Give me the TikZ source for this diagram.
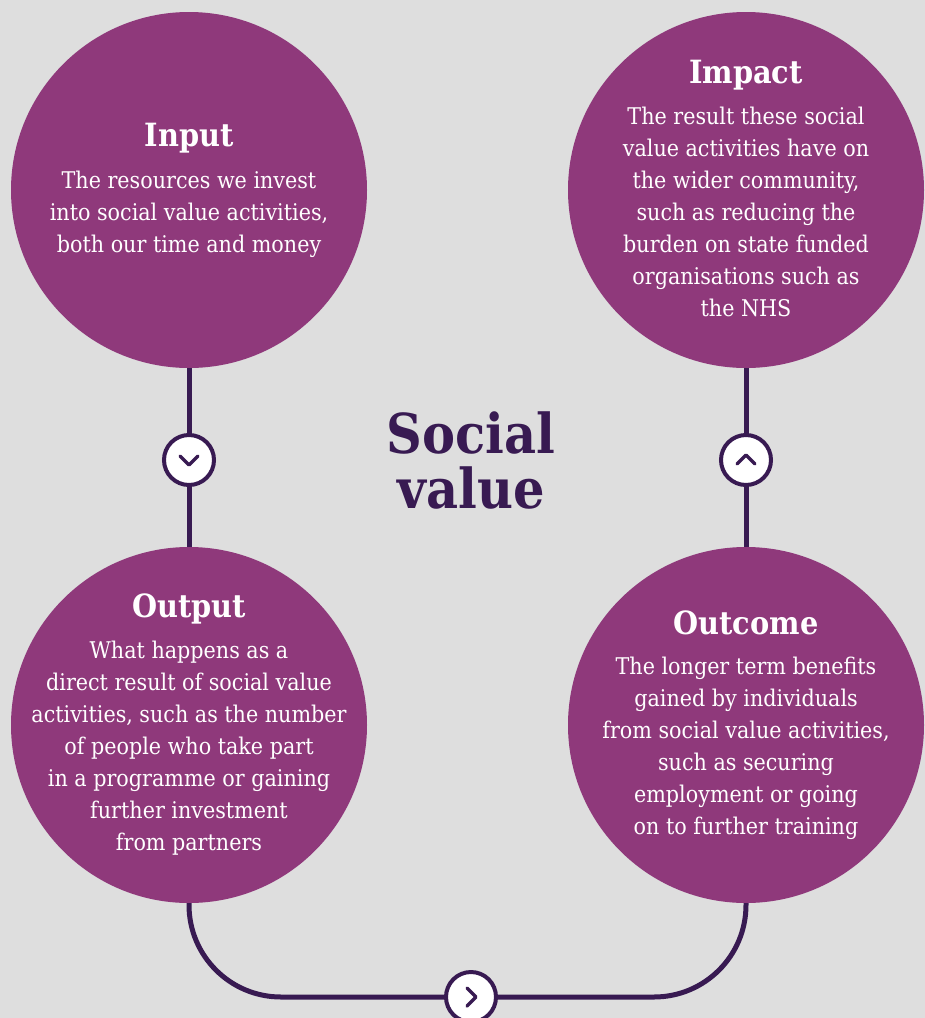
\documentclass[tikz,border=0pt]{standalone}
\usepackage{fontspec}
\setmainfont{DejaVu Serif Condensed}
\definecolor{bgcol}{RGB}{222,222,222}
\definecolor{plum}{RGB}{143,57,123}
\definecolor{ink}{RGB}{56,26,82}
\tikzset{
  bigcircle/.style={circle, fill=plum, minimum size=356pt, inner sep=0pt},
  headtext/.style={text=white, font=\fontsize{32}{36}\selectfont\bfseries, inner sep=0pt},
  bodytext/.style={text=white, align=center, font=\fontsize{23}{32}\selectfont, inner sep=0pt},
  link/.style={draw=ink, line width=5pt},
  knob/.style={circle, draw=ink, line width=4pt, fill=white, minimum size=50pt, inner sep=0pt},
  chevron/.style={draw=ink, line width=3.5pt, line cap=round, line join=round}
}
\begin{document}
\begin{tikzpicture}[x=1pt,y=1pt]
  \fill[bgcol] (0,0) rectangle (925,-1018);
  \useasboundingbox (0,0) rectangle (925,-1018);

  % the four stages
  \node[bigcircle] (input)   at (189,-190) {};
  \node[bigcircle] (impact)  at (746,-190) {};
  \node[bigcircle] (output)  at (189,-725) {};
  \node[bigcircle] (outcome) at (746,-725) {};

  % connectors between the stages
  \coordinate (bl) at (189,-997);
  \coordinate (br) at (746,-997);
  \draw[link] (input) -- (output);
  \draw[link] (outcome) -- (impact);
  \draw[link, rounded corners=92pt] (output.south) -- (bl) -- (br) -- (outcome.south);

  % direction knobs
  \node[knob] (k1) at (189,-460) {};
  \node[knob] (k2) at (746,-460) {};
  \node[knob] (k3) at (471,-997) {};
  \draw[chevron] ([shift={(-9,4)}]k1.center) -- ([shift={(0,-5)}]k1.center) -- ([shift={(9,4)}]k1.center);
  \draw[chevron] ([shift={(-9,-4)}]k2.center) -- ([shift={(0,5)}]k2.center) -- ([shift={(9,-4)}]k2.center);
  \draw[chevron] ([shift={(-4,9)}]k3.center) -- ([shift={(5,0)}]k3.center) -- ([shift={(-4,-9)}]k3.center);

  % centre title
  \node[text=ink, align=center, font=\fontsize{55}{55}\selectfont\bfseries, inner sep=0pt] (title) at (471,-460) {Social\\value};

  % stage texts
  \node[headtext] (inputhead) at (189,-138) {Input};
  \node[bodytext, anchor=north] (inputbody) at (189,-171) {The resources we invest\\into social value activities,\\both our time and money};

  \node[headtext] (impacthead) at (746,-75) {Impact};
  \node[bodytext, anchor=north] (impactbody) at (746,-107) {The result these social\\value activities have on\\the wider community,\\such as reducing the\\burden on state funded\\organisations such as\\the NHS};

  \node[headtext] (outputhead) at (189,-609) {Output};
  \node[bodytext, anchor=north] (outputbody) at (189,-641) {What happens as a\\direct result of social value\\activities, such as the number\\of people who take part\\in a programme or gaining\\further investment\\from partners};

  \node[headtext] (outcomehead) at (746,-623) {Outcome};
  \node[bodytext, anchor=north] (outcomebody) at (746,-657) {The longer term benefits\\gained by individuals\\from social value activities,\\such as securing\\employment or going\\on to further training};
\end{tikzpicture}
\end{document}
